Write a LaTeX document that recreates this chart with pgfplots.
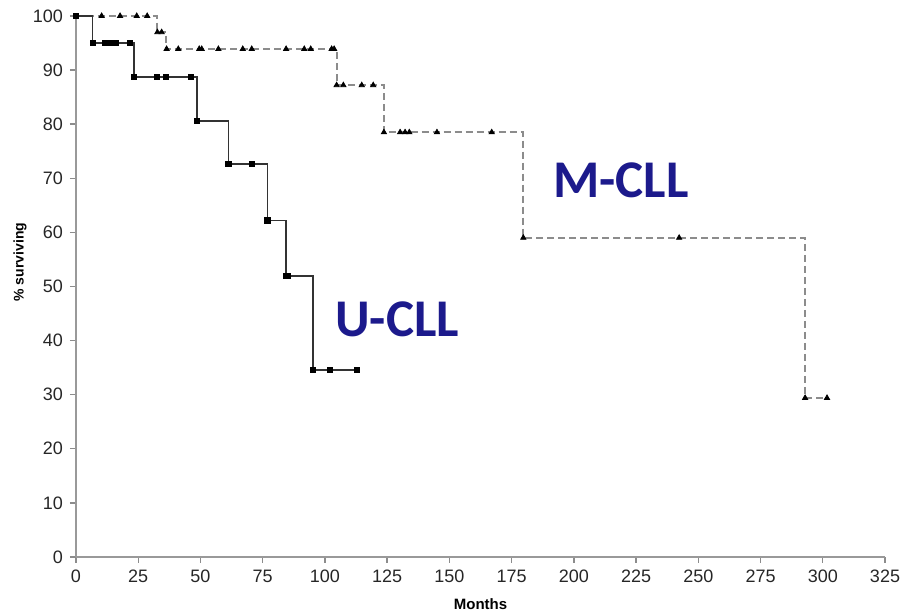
\documentclass[border=0pt]{standalone}
\usepackage{fontspec}
\setmainfont{Liberation Sans}
\newfontfamily\carlito{Carlito}
\usepackage{pgfplots}
\pgfplotsset{compat=1.18}
\definecolor{navy}{RGB}{28,26,140}
\begin{document}
\begin{tikzpicture}
\useasboundingbox (-38pt,-28pt) rectangle (413.5pt,278.5pt);
\begin{axis}[
  at={(0pt,0pt)}, anchor=south west,
  scale only axis, width=404.5pt, height=270.5pt,
  xmin=0, xmax=325, ymin=0, ymax=100,
  axis lines=left,
  axis line style={-, black!40, line width=1pt},
  xtick={0,25,...,325}, ytick={0,10,...,100},
  tick align=outside, major tick length=3pt,
  tick style={black!45, line width=0.7pt},
  ticklabel style={font=\fontsize{9}{10}\selectfont, color=black!85},
  /pgf/number format/assume math mode=true,
  xlabel={Months},
  xlabel style={font=\bfseries\fontsize{7.5}{8}\selectfont, at={(axis description cs:0.5,-0.087)}, anchor=center},
  ylabel={\% surviving},
  ylabel style={font=\bfseries\fontsize{7}{8}\selectfont, at={(axis description cs:-0.0692,0.545)}, anchor=center},
  clip=false,
]
% M-CLL
\addplot[const plot, black!45, line width=1pt, dash pattern=on 3.5pt off 2pt] coordinates {
(0,100) (32.7,97) (36.3,93.9) (104.7,87.2) (123.7,78.5) (179.7,59) (292.9,29.4) (301.7,29.4)};
\addplot[only marks, mark=triangle*, mark size=1.5pt, black] coordinates {
(10.3,100) (17.7,100) (24.4,100) (28.6,100)
(32.7,97) (34.4,97)
(36.4,93.9) (41.1,93.9) (49.5,93.9) (50.5,93.9) (57.2,93.9) (67,93.9) (70.6,93.9) (84.4,93.9) (91.7,93.9) (94.3,93.9) (102.7,93.9) (103.7,93.9)
(104.7,87.2) (107.4,87.2) (114.8,87.2) (119.4,87.2)
(123.7,78.5) (130.2,78.5) (132.2,78.5) (133.9,78.5) (145,78.5) (167,78.5)
(179.7,59) (242.3,59)
(292.9,29.4) (301.7,29.4)};
% U-CLL
\addplot[const plot, black!80, line width=0.75pt] coordinates {
(0,100) (6.7,95) (23.4,88.7) (48.7,80.6) (61.2,72.6) (76.9,62.2) (84.4,51.9) (95.2,34.6) (112.8,34.6)};
\addplot[only marks, mark=square*, mark size=1.3pt, black] coordinates {
(0,100)
(6.7,95) (11.7,95) (13.7,95) (16.1,95) (21.7,95)
(23.4,88.7) (32.4,88.7) (36.2,88.7) (46.1,88.7)
(48.7,80.6)
(61.2,72.6) (70.8,72.6)
(76.9,62.2)
(84.4,51.9) (85.2,51.9)
(95.2,34.6) (102,34.6) (112.8,34.6)};
\node[anchor=base west, font=\carlito\bfseries\fontsize{26.5}{28}\selectfont, text=navy, inner sep=0pt] at (axis cs:191.6,66.5) {M-CLL};
\node[anchor=base west, font=\carlito\bfseries\fontsize{26.5}{28}\selectfont, text=navy, inner sep=0pt] at (axis cs:104,40.7) {U-CLL};
\end{axis}
\end{tikzpicture}
\end{document}
